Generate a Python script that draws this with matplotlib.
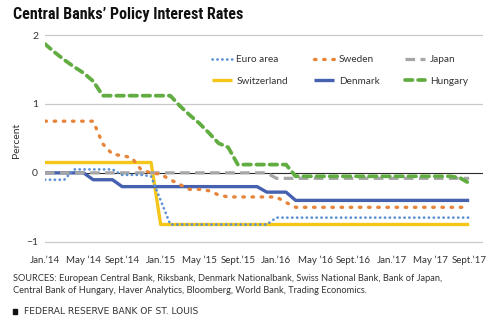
import matplotlib
matplotlib.use("Agg")
import matplotlib.pyplot as plt
from matplotlib.patches import Rectangle

# ---------------- data (monthly, Jan 2014 .. Sept 2017) ----------------
months = list(range(45))
tick_pos = [0, 4, 8, 12, 16, 20, 24, 28, 32, 36, 40, 44]
tick_labels = ["Jan.\u201914", "May \u201914", "Sept.\u201914", "Jan.\u201915",
               "May \u201915", "Sept.\u201915", "Jan.\u201916", "May \u201916",
               "Sept.\u201916", "Jan.\u201917", "May \u201917", "Sept.\u201917"]

euro_area = ([-0.10] * 3 + [0.05] * 5 + [-0.03] * 3 + [-0.05, -0.40]
             + [-0.75] * 11 + [-0.65] * 21)
sweden = ([0.75] * 6 + [0.42, 0.27, 0.25, 0.22, 0.04, 0.00, -0.02, -0.10,
                        -0.17, -0.24, -0.24, -0.26, -0.32]
          + [-0.35] * 6 + [-0.43] + [-0.50] * 19)
japan = [0.0] * 24 + [-0.08] * 21
switzerland = [0.15] * 12 + [-0.75] * 33
denmark = [0.0] * 5 + [-0.10] * 3 + [-0.20] * 15 + [-0.28] * 3 + [-0.40] * 19
hungary = ([1.87, 1.75, 1.64, 1.54, 1.45, 1.33] + [1.12] * 8
           + [0.97, 0.84, 0.72, 0.58, 0.43, 0.37] + [0.12] * 6
           + [-0.05] * 17 + [-0.07, -0.15])

y_ticks = [-1, 0, 1, 2]

# ---------------- styling ----------------
plt.rcParams["font.family"] = ["Lato", "DejaVu Sans"]

W, H = 500, 321
fig = plt.figure(figsize=(W / 100, H / 100), dpi=100)
ax = fig.add_axes([45 / W, 1 - 243.8 / H, 437.7 / W, 210.8 / H])

for s in ax.spines.values():
    s.set_visible(False)

for yv in y_ticks:
    if yv == 0:
        ax.axhline(yv, color="#2b2b2b", lw=0.8, zorder=1)
    else:
        ax.axhline(yv, color="#c9c9c9", lw=0.9, zorder=1)

c_euro = "#5a8fd2"
c_swe = "#e8843a"
c_jap = "#a6a6a6"
c_swi = "#f5c518"
c_den = "#4561b0"
c_hun = "#62ad42"

l_swi, = ax.plot(months, switzerland, color=c_swi, lw=2.4, zorder=3,
                 solid_capstyle="butt", label="Switzerland")
l_den, = ax.plot(months, denmark, color=c_den, lw=2.4, zorder=3,
                 solid_capstyle="butt", label="Denmark")
l_jap, = ax.plot(months, japan, color=c_jap, lw=2.3, zorder=4,
                 linestyle=(0, (3.0, 1.7)), dash_capstyle="butt", label="Japan")
l_euro, = ax.plot(months, euro_area, color=c_euro, lw=1.9, zorder=5,
                  linestyle=(0, (0.1, 1.75)), dash_capstyle="round",
                  label="Euro area")
l_swe, = ax.plot(months, sweden, color=c_swe, lw=2.4, zorder=5,
                 linestyle=(0, (0.45, 2.3)), dash_capstyle="round",
                 label="Sweden")
l_hun, = ax.plot(months, hungary, color=c_hun, lw=2.7, zorder=6,
                 linestyle=(0, (2.0, 1.5)), dash_capstyle="round",
                 label="Hungary")

ax.set_xlim(0, 45.4)
ax.set_ylim(-1.03, 2.03)
ax.set_xticks(tick_pos)
ax.set_xticklabels(tick_labels)
ax.set_yticks(y_ticks)
ax.set_yticklabels(["\u22121", "0", "1", "2"])
ax.tick_params(axis="both", length=0, colors="#333333")
ax.tick_params(axis="x", labelsize=7, pad=8.5)
ax.tick_params(axis="y", labelsize=7.5, pad=5)

fig.text(17 / W, 1 - 140 / H, "Percent", rotation=90, ha="center",
         va="center", fontsize=7.5, color="#333333")

handles = [l_euro, l_swi, l_swe, l_den, l_jap, l_hun]
leg = ax.legend(handles=handles, ncol=3, loc="upper left",
                bbox_to_anchor=(212 / W, 1 - 55 / H),
                bbox_transform=fig.transFigure, frameon=False,
                fontsize=7.2, handlelength=2.0, handletextpad=0.45,
                columnspacing=2.6, labelspacing=1.25, borderpad=0,
                borderaxespad=0)
for t in leg.get_texts():
    t.set_color("#333333")

fig.text(13 / W, 1 - 19.5 / H, "Central Banks\u2019 Policy Interest Rates",
         fontsize=11.5, fontweight="bold", color="#111111",
         family=["Roboto Condensed", "Open Sans Condensed",
                 "Liberation Sans Narrow", "Noto Sans", "DejaVu Sans"],
         fontstretch="condensed", va="baseline")

fig.text(13 / W, 1 - 281 / H,
         "SOURCES: European Central Bank, Riksbank, Denmark Nationalbank, "
         "Swiss National Bank, Bank of Japan,",
         fontsize=6.7, color="#333333", va="baseline")
fig.text(13 / W, 1 - 292.8 / H,
         "Central Bank of Hungary, Haver Analytics, Bloomberg, World Bank, "
         "Trading Economics.",
         fontsize=6.7, color="#333333", va="baseline")

fig.patches.append(Rectangle((12.5 / W, 1 - 313.5 / H), 4.5 / W, 4.5 / H,
                             transform=fig.transFigure, color="#111111"))
fig.text(24 / W, 1 - 313.5 / H, "FEDERAL RESERVE BANK OF ST. LOUIS",
         fontsize=6.6, color="#333333", va="baseline",
         family=["DejaVu Sans"])

fig.savefig("out.png", dpi=100)
